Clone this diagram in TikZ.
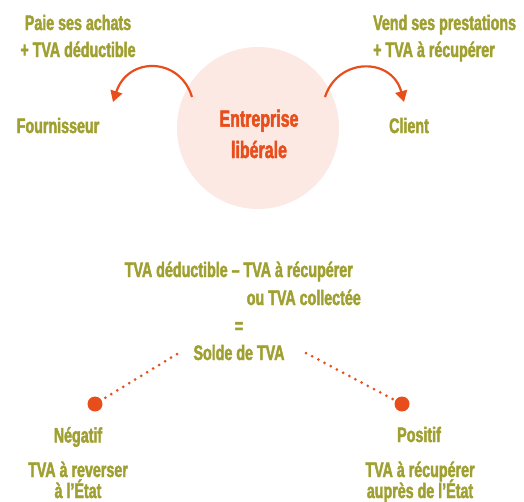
\documentclass[tikz,border=0pt]{standalone}
\usepackage{fontspec}
\newfontfamily\cf{Liberation Sans Bold}[FakeStretch=0.68,FakeBold=2]
\usetikzlibrary{arrows.meta}
\definecolor{olive}{HTML}{A0A032}
\definecolor{orng}{HTML}{E84E1B}
\definecolor{pinkbg}{HTML}{FCE9E4}
\tikzset{
  lbl/.style={text=olive,font=\cf\fontsize{21}{25}\selectfont,inner sep=0pt,anchor=base},
  lblW/.style={lbl,anchor=base west},
  lblE/.style={lbl,anchor=base east},
  ttl/.style={text=orng,font=\cf\fontsize{23.5}{30}\selectfont,inner sep=0pt,anchor=base},
  arr/.style={draw=orng,line width=2.2pt,-{Triangle[length=11pt,width=12pt]}},
  dotl/.style={draw=orng,line width=3pt,line cap=round,dash pattern=on 0pt off 7pt},
  bigdot/.style={circle,fill=orng,minimum size=15pt,inner sep=0pt}
}
\begin{document}
\begin{tikzpicture}[x=1pt,y=-1pt]
\useasboundingbox (0,0) rectangle (524,501);
% central circle
\node[circle,fill=pinkbg,minimum size=162pt,inner sep=0pt] (ent) at (258,128) {};
\node[ttl] (entt1) at (259,126.7) {Entreprise};
\node[ttl] (entt2) at (259,158) {libérale};
% top labels
\node[lbl] (paie1) at (78,30) {Paie ses achats};
\node[lbl] (paie2) at (78,57) {+ TVA déductible};
\node[lblW] (vend1) at (373,30) {Vend ses prestations};
\node[lblW] (vend2) at (373,57) {+ TVA à récupérer};
\node[lbl] (four) at (58,133) {Fournisseur};
\node[lbl] (cli) at (409,133) {Client};
% arrows
\coordinate (la) at (192,97);
\coordinate (lb) at (113,102);
\coordinate (ra) at (325,97);
\coordinate (rb) at (404,102);
\draw[arr] (la) .. controls (180,57) and (128,56) .. (lb);
\draw[arr] (ra) .. controls (338,57) and (392,57) .. (rb);
% formula
\node[lblE] (f1) at (353,277) {TVA déductible – TVA à récupérer};
\node[lblE] (f2) at (361,305) {ou TVA collectée};
\node[lbl] (eq) at (239,333) {=};
\node[lbl] (solde) at (239,360) {Solde de TVA};
% dots
\node[bigdot] (dneg) at (95,404) {};
\node[bigdot] (dpos) at (402,404) {};
\coordinate (sl) at (177,354);
\coordinate (sr) at (306,353);
\draw[dotl] (sl) -- (dneg);
\draw[dotl] (sr) -- (dpos);
% bottom labels
\node[lbl] (neg) at (78,442.5) {Négatif};
\node[lbl] (pos) at (419,442) {Positif};
\node[lbl] (negt1) at (78,477) {TVA à reverser};
\node[lbl] (negt2) at (78,498) {à l’État};
\node[lbl] (post1) at (420,477) {TVA à récupérer};
\node[lbl] (post2) at (420,498) {auprès de l’État};
\end{tikzpicture}
\end{document}
